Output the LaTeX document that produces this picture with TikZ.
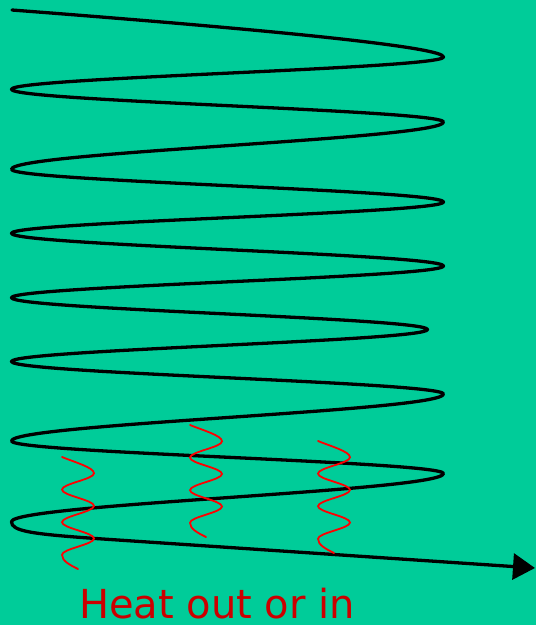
\documentclass[tikz,border=0pt]{standalone}
\usepackage{fontspec}
\newfontfamily\labelfont{DejaVu Sans}
\usetikzlibrary{arrows.meta}
\definecolor{bggreen}{RGB}{0,204,153}
\definecolor{heatred}{RGB}{255,0,0}
\definecolor{textred}{RGB}{204,0,0}
\tikzset{
  coil/.style={line width=3.3pt, black, line join=round, line cap=round},
  wave/.style={line width=1.8pt, heatred, line cap=round},
  heattext/.style={anchor=base west, inner sep=0pt, text=textred, font=\labelfont\fontsize{40}{48}\selectfont}
}
\begin{document}
\begin{tikzpicture}[x=1pt,y=-1pt]
\fill[bggreen] (0,0) rectangle (536,625);
\useasboundingbox (0,0) rectangle (536,625);
% coil
\coordinate (start) at (12,10);
\coordinate (tip) at (535,568);
\draw[coil, -{Triangle[length=22pt,width=26pt]}] (start)
  .. controls (300,32) and (443.5,48) .. (443.5,57)
  .. controls (443.5,68.7) and (11.5,77.6) .. (11.5,89.3)
  .. controls (11.5,101.2) and (443.5,110.1) .. (443.5,122)
  .. controls (443.5,139.2) and (11.5,152.1) .. (11.5,169.3)
  .. controls (11.5,181.2) and (443.5,190.1) .. (443.5,202)
  .. controls (443.5,213.4) and (11.5,221.9) .. (11.5,233.3)
  .. controls (11.5,245.2) and (443.5,254.1) .. (443.5,266)
  .. controls (443.5,277.5) and (11.5,286.2) .. (11.5,297.7)
  .. controls (11.5,309.2) and (427.5,318) .. (427.5,329.5)
  .. controls (427.5,341.1) and (11.5,349.9) .. (11.5,361.5)
  .. controls (11.5,373.3) and (443.5,382.2) .. (443.5,394)
  .. controls (443.5,411.1) and (11.5,423.9) .. (11.5,441)
  .. controls (11.5,452.8) and (443.5,461.7) .. (443.5,473.5)
  .. controls (443.5,491) and (11.5,504.2) .. (11.5,521.7)
  .. controls (11.5,531) and (30,534) .. (100,538.8)
  -- (tip);
% heat waves
\foreach \wx/\wy in {62/457, 190/425, 318/441}{
  \draw[wave, shift={(\wx,\wy)}] (0,0)
    .. controls (12,5) and (32,10.4) .. (32,16.3)
    .. controls (32,22.2) and (0,26.7) .. (0,32.6)
    .. controls (0,38.5) and (32,43) .. (32,48.9)
    .. controls (32,54.8) and (0,59.3) .. (0,65.2)
    .. controls (0,71.1) and (32,75.6) .. (32,81.5)
    .. controls (32,87.4) and (0,91.9) .. (0,97.8)
    .. controls (0,104) and (8,108) .. (16,112);
}
\node[heattext] (label) at (79,618) {Heat out or in};
\end{tikzpicture}
\end{document}
